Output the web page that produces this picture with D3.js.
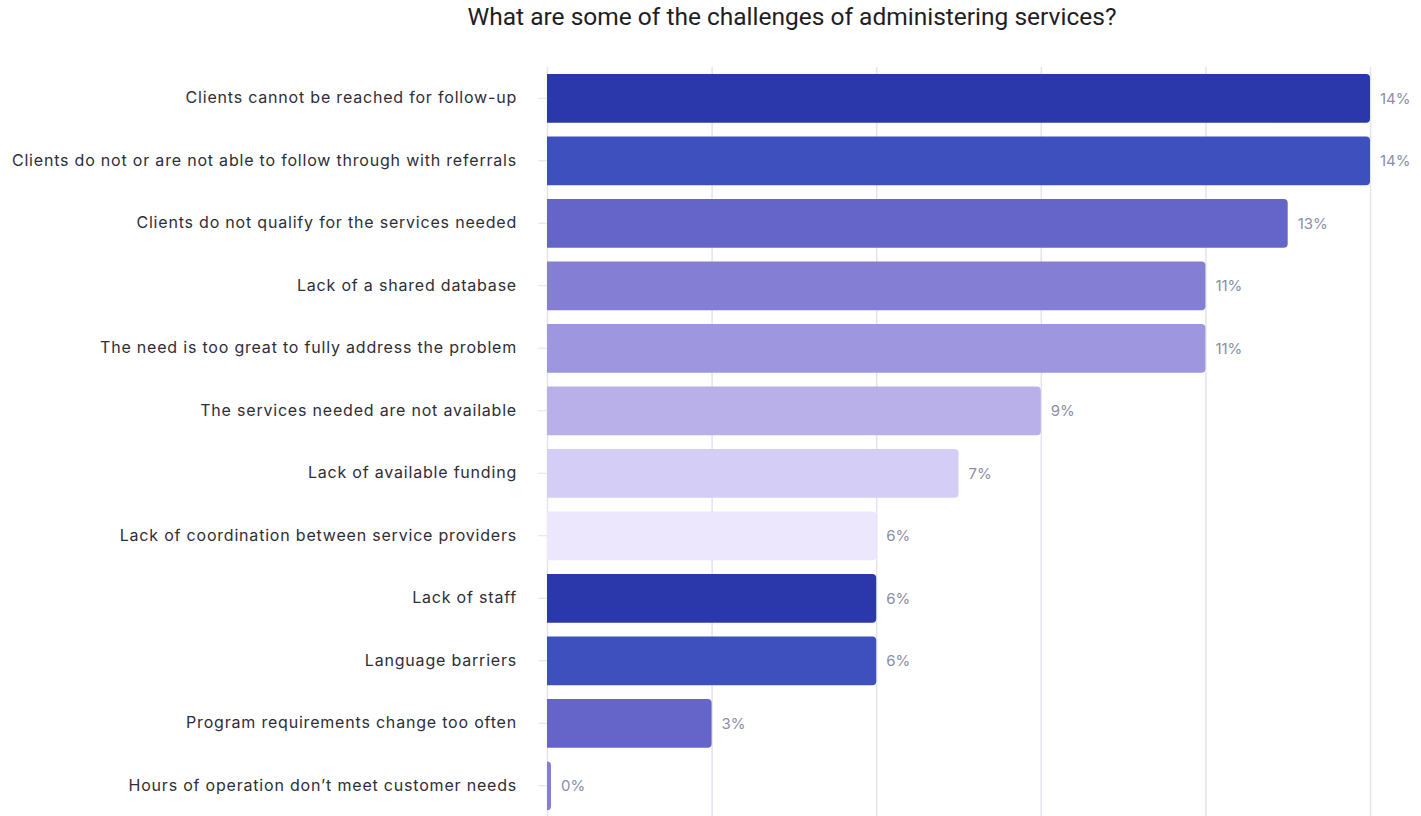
<!DOCTYPE html>
<html>
<head>
<meta charset="utf-8">
<script src="https://cdn.jsdelivr.net/npm/d3@7"></script>
<style>
  html, body { margin: 0; padding: 0; background: #fff; }
  svg { display: block; }
</style>
</head>
<body>
<svg id="chart" width="1421" height="816"></svg>
<script>
// Survey responses: number of respondents naming each challenge
const categories = [
  "Clients cannot be reached for follow-up",
  "Clients do not or are not able to follow through with referrals",
  "Clients do not qualify for the services needed",
  "Lack of a shared database",
  "The need is too great to fully address the problem",
  "The services needed are not available",
  "Lack of available funding",
  "Lack of coordination between service providers",
  "Lack of staff",
  "Language barriers",
  "Program requirements change too often",
  "Hours of operation don\u2019t meet customer needs"
];
const counts = [10, 10, 9, 8, 8, 6, 5, 4, 4, 4, 2, 0];
const xTicks = [0, 2, 4, 6, 8, 10];
const palette = ["#2a38ab", "#3e4fbe", "#6565c9", "#847fd4", "#9e97df", "#b9b0ea", "#d4cdf5", "#ece7fd"];
const title = "What are some of the challenges of administering services?";

const svg = d3.select("#chart");
const total = d3.sum(counts);
const data = categories.map((c, i) => ({ label: c, count: counts[i], pct: counts[i] / total, color: palette[i % palette.length] }));

const x = d3.scaleLinear().domain([0, 10]).range([547, 1370]);
const y = d3.scaleBand().domain(categories).range([67, 817]).paddingInner(0.22).paddingOuter(0.11);

svg.append("text")
  .attr("x", 792).attr("y", 25)
  .attr("text-anchor", "middle")
  .attr("font-family", "Roboto, sans-serif")
  .attr("font-size", 24.5)
  .attr("fill", "#1e1e24")
  .text(title);

// vertical gridlines
svg.append("g").selectAll("line")
  .data(xTicks).join("line")
  .attr("x1", d => x(d) + 0.5).attr("x2", d => x(d) + 0.5)
  .attr("y1", 67).attr("y2", 816)
  .attr("stroke", "#e4e3ef").attr("stroke-width", 1.5);

// category axis on the left
const yAxis = svg.append("g")
  .attr("transform", `translate(${x(0)},0)`)
  .call(d3.axisLeft(y).tickSize(9).tickPadding(21));
yAxis.select(".domain").remove();
yAxis.selectAll(".tick line").attr("stroke", "#e2e2ea");
yAxis.selectAll(".tick text")
  .attr("font-family", "Inter, sans-serif")
  .attr("font-size", 16)
  .attr("letter-spacing", 0.8)
  .attr("fill", "#2e2e38");

// bars with rounded right end
const minW = 4, r = 4;
function barPath(d) {
  const x0 = x(0), y0 = y(d.label), h = y.bandwidth();
  const w = Math.max(x(d.count) - x0, minW);
  const rr = Math.min(r, w);
  return `M${x0},${y0}H${x0 + w - rr}Q${x0 + w},${y0} ${x0 + w},${y0 + rr}` +
         `V${y0 + h - rr}Q${x0 + w},${y0 + h} ${x0 + w - rr},${y0 + h}H${x0}Z`;
}
svg.append("g").selectAll("path")
  .data(data).join("path")
  .attr("d", barPath)
  .attr("fill", d => d.color);

// percentage labels
svg.append("g").selectAll("text")
  .data(data).join("text")
  .attr("x", d => Math.max(x(d.count), x(0) + minW) + 10)
  .attr("y", d => y(d.label) + y.bandwidth() / 2)
  .attr("dy", "0.35em")
  .attr("font-family", "Inter, sans-serif")
  .attr("font-size", 15)
  .attr("fill", "#8a8ea6")
  .text(d => d3.format(".0%")(d.pct));
</script>
</body>
</html>
